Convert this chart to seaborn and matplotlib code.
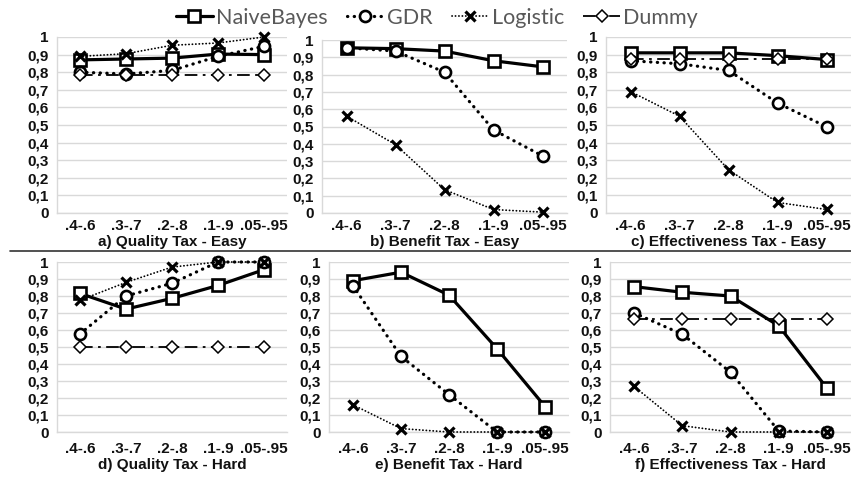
import matplotlib
matplotlib.use('Agg')

import numpy as np
import pandas as pd
import seaborn as sns
import matplotlib.pyplot as plt
from matplotlib.lines import Line2D

# =================================== DATA ===================================

RANGES = ['.4-.6', '.3-.7', '.2-.8', '.1-.9', '.05-.95']
METHODS = ['NaiveBayes', 'GDR', 'Logistic', 'Dummy']

quality_easy_naive = [0.87, 0.875, 0.88, 0.903, 0.90]
quality_easy_gdr = [0.80, 0.79, 0.81, 0.89, 0.947]
quality_easy_logistic = [0.89, 0.905, 0.953, 0.966, 1.0]
quality_easy_dummy = [0.785, 0.785, 0.785, 0.785, 0.785]

benefit_easy_naive = [0.955, 0.95, 0.936, 0.88, 0.845]
benefit_easy_gdr = [0.955, 0.936, 0.814, 0.48, 0.33]
benefit_easy_logistic = [0.56, 0.395, 0.135, 0.02, 0.005]

effect_easy_naive = [0.91, 0.91, 0.91, 0.894, 0.872]
effect_easy_gdr = [0.865, 0.848, 0.81, 0.625, 0.49]
effect_easy_logistic = [0.69, 0.55, 0.246, 0.06, 0.02]
effect_easy_dummy = [0.877, 0.877, 0.877, 0.877, 0.877]

quality_hard_naive = [0.815, 0.723, 0.786, 0.862, 0.955]
quality_hard_gdr = [0.577, 0.80, 0.875, 1.0, 1.0]
quality_hard_logistic = [0.775, 0.88, 0.97, 1.0, 1.0]
quality_hard_dummy = [0.5, 0.5, 0.5, 0.5, 0.5]

benefit_hard_naive = [0.89, 0.94, 0.805, 0.49, 0.15]
benefit_hard_gdr = [0.86, 0.445, 0.22, 0.0, 0.0]
benefit_hard_logistic = [0.16, 0.02, 0.0, 0.0, 0.0]

effect_hard_naive = [0.855, 0.822, 0.80, 0.625, 0.258]
effect_hard_gdr = [0.70, 0.575, 0.352, 0.006, 0.0]
effect_hard_logistic = [0.268, 0.037, 0.0, 0.0, 0.0]
effect_hard_dummy = [0.667, 0.667, 0.667, 0.667, 0.667]

# (title, series per method, left/top/right/bottom in pixels, x label pad)
PANELS = [
    ('a) Quality Tax - Easy',
     {'NaiveBayes': quality_easy_naive, 'GDR': quality_easy_gdr,
      'Logistic': quality_easy_logistic, 'Dummy': quality_easy_dummy},
     (57, 37, 287, 213), 4),
    ('b) Benefit Tax - Easy',
     {'NaiveBayes': benefit_easy_naive, 'GDR': benefit_easy_gdr,
      'Logistic': benefit_easy_logistic},
     (322, 40, 567, 213), 4),
    ('c) Effectiveness Tax - Easy',
     {'NaiveBayes': effect_easy_naive, 'GDR': effect_easy_gdr,
      'Logistic': effect_easy_logistic, 'Dummy': effect_easy_dummy},
     (606, 37, 851, 213), 4),
    ('d) Quality Tax - Hard',
     {'NaiveBayes': quality_hard_naive, 'GDR': quality_hard_gdr,
      'Logistic': quality_hard_logistic, 'Dummy': quality_hard_dummy},
     (57, 262, 287, 432), 7),
    ('e) Benefit Tax - Hard',
     {'NaiveBayes': benefit_hard_naive, 'GDR': benefit_hard_gdr,
      'Logistic': benefit_hard_logistic},
     (329, 262, 569, 432), 7),
    ('f) Effectiveness Tax - Hard',
     {'NaiveBayes': effect_hard_naive, 'GDR': effect_hard_gdr,
      'Logistic': effect_hard_logistic, 'Dummy': effect_hard_dummy},
     (610, 262, 851, 432), 7),
]

STYLES = {
    'NaiveBayes': dict(linestyle='-', linewidth=2.3, marker='s', markersize=8,
                       markeredgewidth=1.9, zorder=3),
    'GDR': dict(linestyle=(0, (0.1, 2.0)), linewidth=2.3, dash_capstyle='round',
                marker='o', markersize=8, markeredgewidth=1.9, zorder=4),
    'Logistic': dict(linestyle=(0, (0.1, 1.8)), linewidth=1.3, dash_capstyle='round',
                     marker='x', markersize=7, markeredgewidth=2.3, zorder=5),
    'Dummy': dict(linestyle=(0, (7, 3, 1.5, 3)), linewidth=1.3,
                  marker='D', markersize=6, markeredgewidth=1.1, zorder=6),
}

W, H = 851, 479
GRID = '#d9d9d9'
TICK_FONT = dict(family='Liberation Sans', weight='bold', color='#111111')

# =================================== PLOT ===================================

sns.set_style('white')
fig = plt.figure(figsize=(W / 100, H / 100), dpi=100)

legend_handles = {}
for title, series, (left, top, right, bottom), xpad in PANELS:
    ax = fig.add_axes([left / W, 1 - bottom / H, (right - left) / W, (bottom - top) / H])
    ax.set_facecolor('none')

    for method in METHODS:
        if method not in series: continue
        frame = pd.DataFrame({'x': np.arange(len(RANGES)), 'y': series[method]})
        sns.lineplot(data=frame, x='x', y='y', ax=ax, color='black',
                     markerfacecolor='white', markeredgecolor='black', clip_on=False,
                     **STYLES[method])
        if method not in legend_handles: legend_handles[method] = ax.get_lines()[-1]

    ax.set_xlim(-0.5, len(RANGES) - 0.5)
    ax.set_ylim(0, 1)
    ax.set_xticks(np.arange(len(RANGES)))
    ax.set_xticklabels(RANGES, fontsize=11, **TICK_FONT)
    yticks = np.round(np.arange(0, 1.01, 0.1), 1)
    ax.set_yticks(yticks)
    ax.set_yticklabels([('%g' % v).replace('.', ',') for v in yticks], fontsize=11, **TICK_FONT)
    ax.tick_params(axis='x', length=0, pad=xpad)
    ax.tick_params(axis='y', length=0, pad=6)

    ax.grid(axis='y', color=GRID, linewidth=1)
    ax.set_axisbelow(True)
    for side in ['top', 'right']: ax.spines[side].set_visible(False)
    for side in ['left', 'bottom']:
        ax.spines[side].set_color(GRID)
        ax.spines[side].set_linewidth(1)

    ax.set_ylabel('')
    ax.set_xlabel(title, fontsize=11, labelpad=2, **TICK_FONT)

fig.add_artist(Line2D([10 / W, 1], [1 - 251 / H, 1 - 251 / H], color='#333333', linewidth=1.2))

legend = fig.legend([legend_handles[m] for m in METHODS], METHODS, loc='center',
                    bbox_to_anchor=(437 / W, 1 - 18 / H), ncol=4, frameon=False,
                    handlelength=1.7, handletextpad=0.15, columnspacing=0.9,
                    prop=dict(family='Lato', size=15.5))
for text in legend.get_texts(): text.set_color('#595959')

plt.savefig('out.png', dpi=100)
plt.close('all')
